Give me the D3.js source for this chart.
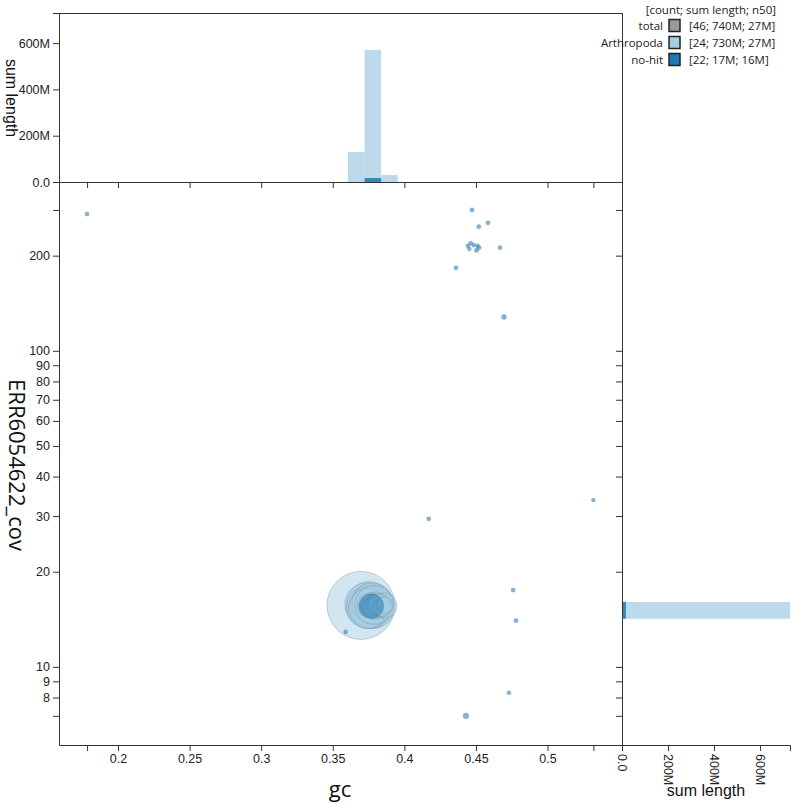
<!DOCTYPE html>
<html><head><meta charset="utf-8">
<script src="https://cdn.jsdelivr.net/npm/d3@7"></script>
<style>
body{margin:0;background:#fff}
svg{display:block}
.tick text{font-family:"Liberation Sans",Arial,sans-serif;font-size:12.5px;fill:#222}
.domain,.tick line{stroke:#333}
</style></head><body>
<svg id="c" width="796" height="804"></svg>
<script>
// ---- data ----
const categories = ["total", "Arthropoda", "no-hit"];
const legendValues = ["[46; 740M; 27M]", "[24; 730M; 27M]", "[22; 17M; 16M]"];
const catColors = ["#999999", "#a6cee3", "#1f78b4"];

const arthGc  = [0.3697,0.3735,0.3742,0.3752,0.3760,0.3768,0.3776,0.3783,0.3748,0.3790,
                 0.3765,0.3772,0.3780,0.3758,0.3786,0.3794,0.3800,0.3806,0.3812,0.3818,0.3825,
                 0.3858,0.3848,0.3862];
const arthCov = [15.65,15.75,15.45,15.85,15.40,15.60,15.90,15.50,15.30,15.70,
                 15.55,15.75,15.35,15.65,15.60,15.45,15.80,15.55,15.65,15.50,15.70,
                 15.60,15.45,15.70];
const arthLen = [130,50,48,52,46,55,44,50,42,40,
                 14,13,12,15,13,12,14,13,12,13,12,
                 16,8,6].map(v => v * 1e6);

const nohitGc  = [0.3770,0.1784,0.4472,0.4520,0.4584,0.4463,0.4444,0.4484,0.4511,0.4453,0.4504,
                  0.4522,0.4667,0.4360,0.4696,0.4170,0.5320,0.4760,0.4780,0.4730,0.4430,0.3590];
const nohitCov = [15.57,271,279,247,254,219,215,216,215,210,208,
                  212,212,183,128,29.4,33.7,17.5,14.0,8.28,7.0,12.9];
const nohitLen = [14.5,0.05,0.06,0.07,0.06,0.05,0.05,0.06,0.05,0.05,0.08,
                  0.05,0.05,0.07,0.14,0.05,0.04,0.06,0.06,0.04,0.25,0.05].map(v => v * 1e6);

const gcBinEdges  = [0.3606, 0.3722, 0.3838, 0.3954];
const gcHistArth  = [130e6, 570e6, 30e6];
const gcHistNohit = [0, 17e6, 0];
const covBinEdges  = [14.2, 16.05];
const covHistArth  = [730e6];
const covHistNohit = [17e6];

const gcTicks  = [0.2, 0.25, 0.3, 0.35, 0.4, 0.45, 0.5];
const covTicks = [8, 9, 10, 20, 30, 40, 50, 60, 70, 80, 90, 100, 200];
const lenTicks = [0, 200e6, 400e6, 600e6];

// ---- layout ----
const L = 59, R = 622, T = 182, B = 745, TOPH = 13, RIGHTW = 790;
const svg = d3.select("#c");

const x = d3.scaleLinear().domain([0.1588, 0.552]).range([L, R]);
const y = d3.scaleLog().domain([5.66, 342]).range([B, T]);
const hTop = d3.scaleLinear().domain([0, 730e6]).range([T, TOPH]);
const hRight = d3.scaleLinear().domain([0, 730e6]).range([R, RIGHTW]);
const rad = d3.scaleSqrt().domain([0, 130e6]).range([1.4, 34]);

const allGc = arthGc.concat(nohitGc), allCov = arthCov.concat(nohitCov);
const gcExt = d3.extent(allGc), covExt = d3.extent(allCov);
const fmtLen = v => v === 0 ? "0.0" : d3.format(".0s")(v);

// ---- histograms ----
const topG = svg.append("g");
gcHistArth.forEach((v, i) => {
  topG.append("rect").attr("x", x(gcBinEdges[i])).attr("width", x(gcBinEdges[i+1]) - x(gcBinEdges[i]))
    .attr("y", hTop(v)).attr("height", T - hTop(v)).attr("fill", catColors[1]).attr("fill-opacity", 0.75);
});
gcHistNohit.forEach((v, i) => {
  if (!v) return;
  topG.append("rect").attr("x", x(gcBinEdges[i])).attr("width", x(gcBinEdges[i+1]) - x(gcBinEdges[i]))
    .attr("y", hTop(v)).attr("height", T - hTop(v)).attr("fill", catColors[2]).attr("fill-opacity", 0.85);
});
const rightG = svg.append("g");
rightG.append("clipPath").attr("id", "rc").append("rect").attr("x", R).attr("y", T).attr("width", RIGHTW - R).attr("height", B - T);
const rg = rightG.append("g").attr("clip-path", "url(#rc)");
covHistArth.forEach((v, i) => {
  rg.append("rect").attr("x", R).attr("width", hRight(v) - R)
    .attr("y", y(covBinEdges[i+1])).attr("height", y(covBinEdges[i]) - y(covBinEdges[i+1]))
    .attr("fill", catColors[1]).attr("fill-opacity", 0.75);
});
covHistNohit.forEach((v, i) => {
  rg.append("rect").attr("x", R).attr("width", hRight(v) - R)
    .attr("y", y(covBinEdges[i+1])).attr("height", y(covBinEdges[i]) - y(covBinEdges[i+1]))
    .attr("fill", catColors[2]).attr("fill-opacity", 0.85);
});

// ---- scatter ----
const pts = [];
arthGc.forEach((g, i) => pts.push({gc: g, cov: arthCov[i], len: arthLen[i], c: 1}));
const nh = [];
nohitGc.forEach((g, i) => nh.push({gc: g, cov: nohitCov[i], len: nohitLen[i], c: 2}));
pts.sort((a, b) => b.len - a.len);
nh.sort((a, b) => b.len - a.len);
const sc = svg.append("g");
sc.selectAll("circle").data(pts.concat(nh)).join("circle")
  .attr("cx", d => x(d.gc)).attr("cy", d => y(d.cov)).attr("r", d => rad(d.len))
  .attr("fill", d => catColors[d.c]).attr("fill-opacity", d => d.c === 1 ? 0.5 : 0.55)
  .attr("stroke", d => d.c === 1 ? "#7d98ab" : "#4f7a9c").attr("stroke-opacity", d => d.c === 1 ? 0.45 : 0.3)
  .attr("stroke-width", 1);

// ---- axes ----
const xTickVals = gcTicks.concat(gcExt);
const yTickVals = covTicks.concat(covExt);
function styleAxis(g) {
  g.attr("font-family", "Liberation Sans, Arial, sans-serif").attr("font-size", 12.5);
}
svg.append("g").attr("transform", `translate(0,${B})`)
  .call(d3.axisBottom(x).tickValues(xTickVals).tickSizeOuter(0)
    .tickFormat(d => gcTicks.includes(d) ? String(d) : "")).call(styleAxis);
svg.append("g").attr("transform", `translate(${L},0)`)
  .call(d3.axisLeft(y).tickValues(yTickVals).tickSizeOuter(0)
    .tickFormat(d => covTicks.includes(d) ? String(d) : "")).call(styleAxis);
// top hist axes
svg.append("g").attr("transform", `translate(0,${T})`)
  .call(d3.axisBottom(x).tickValues(xTickVals).tickSizeOuter(0).tickFormat(""));
svg.append("g").attr("transform", `translate(${L},0)`)
  .call(d3.axisLeft(hTop).tickValues(lenTicks).tickFormat(fmtLen)).call(styleAxis);
// right hist axes
svg.append("g").attr("transform", `translate(${R},0)`)
  .call(d3.axisLeft(y).tickValues(yTickVals).tickSizeOuter(0).tickFormat(""));
const rb = svg.append("g").attr("transform", `translate(0,${B})`)
  .call(d3.axisBottom(hRight).tickValues(lenTicks).tickFormat(fmtLen)).call(styleAxis);
rb.selectAll(".tick text").attr("transform", "rotate(90)").attr("x", 9).attr("y", 0)
  .attr("dy", "0.35em").style("text-anchor", "start");
// frame lines
svg.append("line").attr("x1", L).attr("x2", R).attr("y1", TOPH + 0.5).attr("y2", TOPH + 0.5).attr("stroke", "#333");
svg.append("line").attr("x1", R + 0.5).attr("x2", R + 0.5).attr("y1", TOPH).attr("y2", B).attr("stroke", "#333");

// ---- axis titles ----
svg.append("text").attr("x", 340).attr("y", 797).attr("text-anchor", "middle")
  .style("font-family", "'Open Sans'").style("font-size", "22px").attr("fill", "#111").text("gc");
svg.append("text").attr("transform", "translate(9,465) rotate(90)").attr("text-anchor", "middle")
  .style("font-family", "'Open Sans'").style("font-size", "22px").attr("fill", "#111").text("ERR6054622_cov");
svg.append("text").attr("transform", "translate(6,98) rotate(90)").attr("text-anchor", "middle")
  .style("font-family", "'Liberation Sans'").style("font-size", "16px").attr("fill", "#111").text("sum length");
svg.append("text").attr("x", 706).attr("y", 796).attr("text-anchor", "middle")
  .style("font-family", "'Liberation Sans'").style("font-size", "16px").attr("fill", "#111").text("sum length");

// ---- legend ----
const lg = svg.append("g").style("font-family", "'Open Sans'").style("font-size", "11.5px").attr("fill", "#222");
lg.append("text").attr("x", 776).attr("y", 14).attr("text-anchor", "end").text("[count; sum length; n50]");
categories.forEach((c, i) => {
  const yy = 26 + i * 17;
  lg.append("text").attr("x", 663).attr("y", yy + 4).attr("text-anchor", "end").text(c);
  lg.append("rect").attr("x", 669).attr("y", yy - 6.5).attr("width", 11).attr("height", 12)
    .attr("fill", catColors[i]).attr("stroke", "#222").attr("stroke-width", 1.5);
  lg.append("text").attr("x", 689).attr("y", yy + 4).text(legendValues[i]);
});
</script>
</body></html>
